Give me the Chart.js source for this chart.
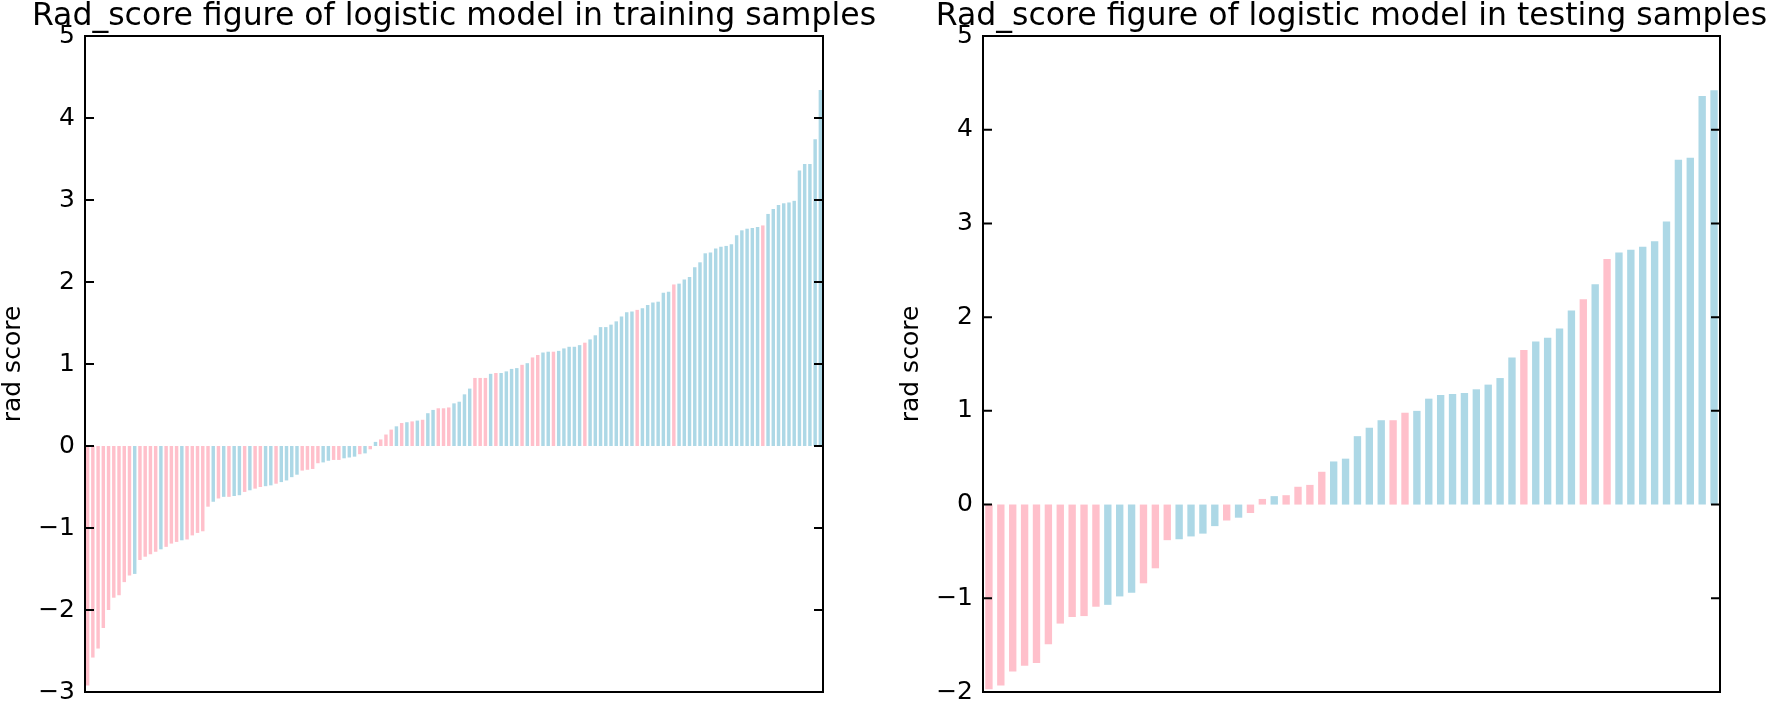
<!DOCTYPE html>
<html>
<head>
<meta charset="utf-8">
<script src="https://cdn.jsdelivr.net/npm/chart.js@4.4.0/dist/chart.umd.min.js"></script>
<style>
	body { margin: 0; background: #fff; width: 1770px; height: 703px; overflow: hidden; position: relative; }
	canvas { position: absolute; top: 0; }
	#trainChart { left: 0px; }
	#testChart { left: 898px; }
</style>
</head>
<body>
<canvas id="trainChart" width="880" height="703"></canvas>
<canvas id="testChart" width="872" height="703"></canvas>
<script>
// rad score per sample, sorted; class 0 = pink, 1 = light blue
var trainScores = [
	-2.92, -2.58, -2.47, -2.22, -2.00, -1.85, -1.82, -1.66, -1.58, -1.56,
	-1.39, -1.35, -1.32, -1.29, -1.26, -1.23, -1.19, -1.17, -1.15, -1.14,
	-1.09, -1.06, -1.04, -0.74, -0.68, -0.64, -0.62, -0.62, -0.61, -0.60,
	-0.56, -0.54, -0.52, -0.50, -0.49, -0.48, -0.46, -0.44, -0.42, -0.38,
	-0.35, -0.30, -0.29, -0.28, -0.21, -0.20, -0.18, -0.17, -0.17, -0.15,
	-0.14, -0.13, -0.10, -0.09, -0.04, 0.05, 0.08, 0.14, 0.20, 0.24,
	0.28, 0.29, 0.30, 0.31, 0.32, 0.40, 0.44, 0.46, 0.46, 0.47,
	0.52, 0.54, 0.63, 0.70, 0.83, 0.83, 0.83, 0.88, 0.89, 0.89,
	0.91, 0.94, 0.95, 0.99, 1.01, 1.08, 1.11, 1.14, 1.15, 1.15,
	1.16, 1.19, 1.21, 1.21, 1.23, 1.26, 1.30, 1.35, 1.45, 1.45,
	1.48, 1.52, 1.58, 1.63, 1.64, 1.66, 1.68, 1.72, 1.75, 1.76,
	1.87, 1.88, 1.97, 1.98, 2.03, 2.06, 2.18, 2.24, 2.35, 2.36,
	2.41, 2.43, 2.44, 2.46, 2.57, 2.63, 2.65, 2.66, 2.67, 2.69,
	2.83, 2.89, 2.94, 2.96, 2.97, 2.99, 3.36, 3.44, 3.44, 3.74,
	4.34
];
var trainClass = [
	0, 0, 0, 0, 0, 0, 0, 0, 0, 1,
	0, 0, 0, 0, 1, 0, 0, 0, 1, 0,
	0, 0, 0, 0, 1, 0, 1, 0, 1, 1,
	0, 1, 0, 0, 1, 1, 0, 1, 1, 1,
	1, 0, 0, 0, 0, 1, 1, 0, 0, 1,
	1, 1, 0, 1, 0, 1, 0, 0, 0, 1,
	0, 1, 0, 1, 0, 1, 1, 0, 0, 0,
	1, 1, 1, 1, 0, 0, 0, 1, 0, 1,
	1, 1, 1, 0, 1, 0, 0, 1, 1, 0,
	1, 1, 1, 1, 1, 0, 1, 1, 1, 1,
	1, 1, 1, 1, 1, 0, 1, 1, 1, 1,
	1, 1, 0, 1, 1, 1, 1, 1, 1, 1,
	1, 1, 1, 1, 1, 1, 1, 1, 1, 0,
	1, 1, 1, 1, 1, 1, 1, 1, 1, 1,
	1
];
var testScores = [
	-1.97, -1.93, -1.78, -1.72, -1.69, -1.49, -1.27, -1.20, -1.19, -1.09,
	-1.07, -0.98, -0.94, -0.84, -0.68, -0.38, -0.37, -0.34, -0.31, -0.23,
	-0.17, -0.14, -0.09, 0.06, 0.09, 0.10, 0.19, 0.21, 0.35, 0.46,
	0.49, 0.73, 0.82, 0.90, 0.90, 0.98, 1.00, 1.13, 1.17, 1.18,
	1.19, 1.23, 1.28, 1.35, 1.57, 1.65, 1.74, 1.78, 1.88, 2.07,
	2.19, 2.35, 2.62, 2.69, 2.72, 2.75, 2.81, 3.02, 3.68, 3.70,
	4.36, 4.42
];
var testClass = [
	0, 0, 0, 0, 0, 0, 0, 0, 0, 0,
	1, 1, 1, 0, 0, 0, 1, 1, 1, 1,
	0, 1, 0, 0, 1, 0, 0, 0, 0, 1,
	1, 1, 1, 1, 0, 0, 1, 1, 1, 1,
	1, 1, 1, 1, 1, 0, 1, 1, 1, 1,
	0, 1, 0, 1, 1, 1, 1, 1, 1, 1,
	1, 1
];
var trainTicks = [-3, -2, -1, 0, 1, 2, 3, 4, 5];
var testTicks = [-2, -1, 0, 1, 2, 3, 4, 5];

var classColors = ['rgb(255, 192, 203)', 'rgb(173, 216, 230)'];
var fontName = 'DejaVu Sans';

// matplotlib classic look: black frame, ticks pointing inward on both sides,
// title centred over the axes box
var frameTicks = {
	id: 'frameTicks',
	afterDatasetsDraw(chart, args, opts) {
		const ctx = chart.ctx;
		const a = chart.chartArea;
		const y = chart.scales.y;
		ctx.save();
		ctx.strokeStyle = '#000';
		ctx.lineWidth = 2;
		y.ticks.forEach(t => {
			const py = y.getPixelForValue(t.value);
			ctx.beginPath();
			ctx.moveTo(a.left, py);
			ctx.lineTo(a.left + 9, py);
			ctx.moveTo(a.right, py);
			ctx.lineTo(a.right - 9, py);
			ctx.stroke();
		});
		ctx.strokeRect(a.left, a.top, a.right - a.left, a.bottom - a.top);

		ctx.fillStyle = '#000';
		ctx.font = '31.5px "' + fontName + '"';
		ctx.textAlign = 'center';
		ctx.textBaseline = 'alphabetic';
		ctx.fillText(opts.text, (a.left + a.right) / 2, 25);
		ctx.restore();
	}
};

function makeChart(id, title, scores, classes, ticks, barPct, padRight) {
	const area = document.getElementById(id).getContext('2d');
	return new Chart(area, {
		type: 'bar',
		data: {
			labels: scores.map((v, i) => i + 1),
			datasets: [{
				label: title,
				data: scores,
				backgroundColor: classes.map(c => classColors[c]),
				borderWidth: 0,
				barPercentage: barPct,
				categoryPercentage: 1.0
			}]
		},
		options: {
			responsive: false,
			animation: false,
			layout: {
				padding: { left: 0, right: padRight, top: 36, bottom: 11 }
			},
			plugins: {
				legend: { display: false },
				tooltip: { enabled: false },
				title: { display: false },
				frameTicks: { text: title }
			},
			scales: {
				x: {
					display: false,
					offset: true
				},
				y: {
					min: ticks[0],
					max: ticks[ticks.length - 1],
					afterBuildTicks: s => { s.ticks = ticks.map(v => ({ value: v })); },
					afterFit: s => { s.width = 85; s.paddingTop = 0; s.paddingBottom = 0; },
					grid: { display: false, drawTicks: false },
					border: { display: false },
					ticks: {
						color: '#000',
						padding: 10,
						font: { family: fontName, size: 25, lineHeight: 0.8 },
						callback: v => v < 0 ? '\u2212' + Math.abs(v) : String(v)
					},
					title: {
						display: true,
						text: 'rad score',
						color: '#000',
						padding: 0,
						font: { family: fontName, size: 25, lineHeight: 1.1 }
					}
				}
			}
		},
		plugins: [frameTicks]
	});
}

makeChart('trainChart', 'Rad_score figure of logistic model in training samples',
	trainScores, trainClass, trainTicks, 0.66, 57);
makeChart('testChart', 'Rad_score figure of logistic model in testing samples',
	testScores, testClass, testTicks, 0.62, 50);
</script>
</body>
</html>
